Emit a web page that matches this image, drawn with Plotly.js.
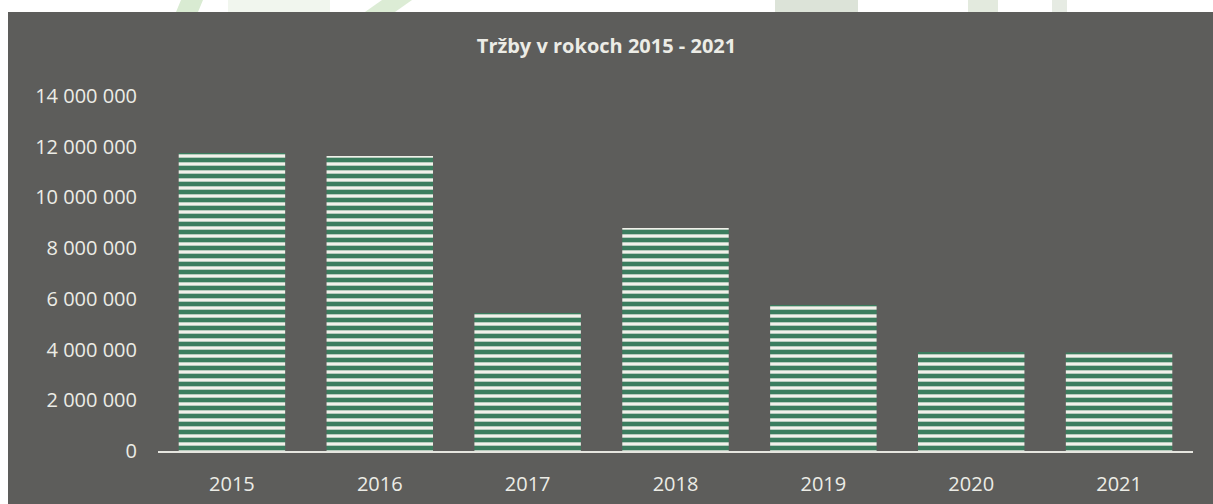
<!DOCTYPE html>
<html>
<head>
<meta charset="utf-8">
<script src="https://cdn.plot.ly/plotly-3.0.1.min.js"></script>
<style>
html,body{margin:0;padding:0;background:#ffffff;}
#chart{width:1213px;height:504px;}
</style>
</head>
<body>
<div id="chart"></div>
<script>
// Data
const years = ['2015', '2016', '2017', '2018', '2019', '2020', '2021'];
const revenue = [11750000, 11630000, 5440000, 8790000, 5760000, 3900000, 3880000];
const yTickVals = [0, 2000000, 4000000, 6000000, 8000000, 10000000, 12000000, 14000000];
const yTickText = ['0', '2 000 000', '4 000 000', '6 000 000', '8 000 000', '10 000 000', '12 000 000', '14 000 000'];
const chartTitle = 'Tržby v rokoch 2015 - 2021';

// Layout geometry (pixels)
const W = 1213, H = 504;
const mL = 158, mR = 20, mT = 96, mB = 53;
const pw = W - mL - mR, ph = H - mT - mB;
const px = x => (x - mL) / pw;
const py = y => (H - mB - y) / ph;

const gray = '#5d5d5b';
const txt = '#ecece6';

const shapes = [
  // dark chart background
  {type:'rect', xref:'paper', yref:'paper', x0:px(8), x1:px(W+2), y0:py(H+2), y1:py(12),
   fillcolor:gray, line:{width:0}, layer:'below'},
  // light watermark bits in the white strip at the top
  {type:'path', xref:'paper', yref:'paper',
   path:`M ${px(176)} ${py(12)} L ${px(198)} ${py(12)} L ${px(203)} ${py(0)} L ${px(181)} ${py(0)} Z`,
   fillcolor:'#d9ebd2', line:{width:0}, layer:'below'},
  {type:'rect', xref:'paper', yref:'paper', x0:px(228), x1:px(330), y0:py(12), y1:py(0),
   fillcolor:'#f1f6ee', line:{width:0}, layer:'below'},
  {type:'path', xref:'paper', yref:'paper',
   path:`M ${px(365)} ${py(12)} L ${px(395)} ${py(12)} L ${px(412)} ${py(0)} L ${px(382)} ${py(0)} Z`,
   fillcolor:'#dcecd5', line:{width:0}, layer:'below'},
  {type:'rect', xref:'paper', yref:'paper', x0:px(775), x1:px(858), y0:py(12), y1:py(0),
   fillcolor:'#dce3d8', line:{width:0}, layer:'below'},
  {type:'rect', xref:'paper', yref:'paper', x0:px(968), x1:px(998), y0:py(12), y1:py(0),
   fillcolor:'#e3eade', line:{width:0}, layer:'below'},
  {type:'rect', xref:'paper', yref:'paper', x0:px(1052), x1:px(1067), y0:py(12), y1:py(0),
   fillcolor:'#e6ebe3', line:{width:0}, layer:'below'}
];

const trace = {
  type:'bar',
  x: years,
  y: revenue,
  marker:{
    color:'#3b7d5e',
    line:{width:0},
    pattern:{shape:'-', fgcolor:'#f1f1ea', bgcolor:'#3b7d5e', size:8, solidity:0.42, fillmode:'replace'}
  },
  hoverinfo:'x+y'
};

const layout = {
  width:W, height:H,
  margin:{l:mL, r:mR, t:mT, b:mB, pad:0},
  paper_bgcolor:'#ffffff',
  plot_bgcolor:'rgba(0,0,0,0)',
  showlegend:false,
  bargap:0.28,
  title:{text:'<b>'+chartTitle+'</b>', x:0.5, xanchor:'center', y:(H-46)/H, yanchor:'middle',
         font:{family:'Open Sans, sans-serif', size:20, color:txt}},
  xaxis:{
    showgrid:false, zeroline:false,
    showline:true, linecolor:'#e6e6e0', linewidth:1.5,
    ticks:'', ticklabelstandoff:14,
    tickfont:{family:'Open Sans, sans-serif', size:20, color:txt}
  },
  yaxis:{
    range:[0, 14000000], showgrid:false, zeroline:false, showline:false,
    tickmode:'array', tickvals:yTickVals, ticktext:yTickText,
    ticks:'', ticklabelstandoff:20,
    tickfont:{family:'Open Sans, sans-serif', size:20, color:txt}
  },
  shapes: shapes
};

Plotly.newPlot('chart', [trace], layout, {displayModeBar:false, staticPlot:true});
</script>
</body>
</html>
